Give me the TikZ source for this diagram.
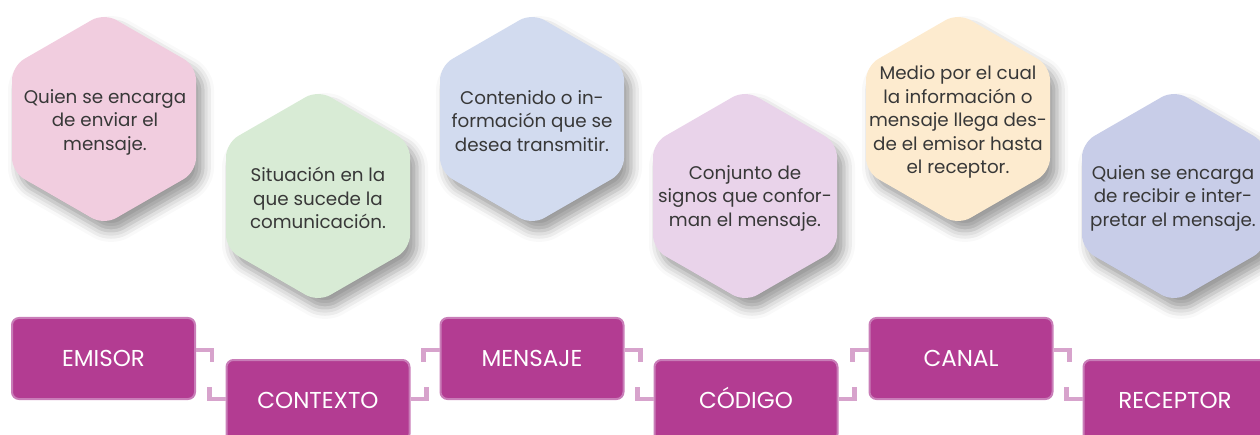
\documentclass[tikz,border=0pt]{standalone}
\usepackage{fontspec}
\setmainfont{Poppins}
\usetikzlibrary{shadows.blur}
\definecolor{hexpink}{HTML}{F1CDDF}
\definecolor{hexgreen}{HTML}{D8EBD5}
\definecolor{hexblue}{HTML}{D2DBEF}
\definecolor{hexlav}{HTML}{E9D3EA}
\definecolor{hexcream}{HTML}{FDEBCF}
\definecolor{hexperi}{HTML}{C8CDE8}
\definecolor{boxfill}{HTML}{B33C92}
\definecolor{boxline}{HTML}{C97DB8}
\definecolor{connc}{HTML}{D7A3CC}
\definecolor{txt}{HTML}{383838}
\tikzset{
  hexbody/.style={rounded corners=14pt,
    blur shadow={shadow xshift=7pt, shadow yshift=-10pt, shadow blur radius=11pt, shadow opacity=40}},
  hextext/.style={align=center, text=txt, font=\fontsize{18.3}{23.5}\selectfont, inner sep=0pt},
  stage/.style={rectangle, rounded corners=7pt, fill=boxfill, draw=boxline, line width=2pt,
    minimum width=183pt, minimum height=81pt, text=white, font=\fontsize{23}{26}\selectfont,
    text height=16pt, text depth=0pt, inner sep=0pt},
  conn/.style={draw=connc, line width=4.5pt, line join=miter}
}
\newcommand\hexagonat[3]{%
  \path[fill=#3, hexbody] (#1-92,#2) -- (#1-92,#2-53) -- (#1,#2-106) -- (#1+92,#2-53)
    -- (#1+92,#2+53) -- (#1,#2+106) -- (#1-92,#2+53) -- cycle;}
\begin{document}
\begin{tikzpicture}[x=1pt,y=-1pt]
\useasboundingbox (0,0) rectangle (1260,435);
% hexagons
\hexagonat{104}{119}{hexpink}
\hexagonat{318}{196}{hexgreen}
\hexagonat{532}{119}{hexblue}
\hexagonat{745}{196}{hexlav}
\hexagonat{958}{119}{hexcream}
\hexagonat{1174}{196}{hexperi}
\node[hextext] (t1) at (105,122) {Quien se encarga\\de enviar el\\mensaje.};
\node[hextext] (t2) at (318,198) {Situación en la\\que sucede la\\comunicación.};
\node[hextext] (t3) at (532,121) {Contenido o in-\\formación que se\\desea transmitir.};
\node[hextext] (t4) at (745,198) {Conjunto de\\signos que confor-\\man el mensaje.};
\node[hextext] (t5) at (958,122) {Medio por el cual\\la información o\\mensaje llega des-\\de el emisor hasta\\el receptor.};
\node[hextext] (t6) at (1173,198) {Quien se encarga\\de recibir e inter-\\pretar el mensaje.};
% stage boxes
\node[stage] (emisor)   at (103.5,358.5) {EMISOR};
\node[stage] (contexto) at (318,400.5) {CONTEXTO};
\node[stage] (mensaje)  at (532,358.5) {MENSAJE};
\node[stage] (codigo)   at (746,400.5) {CÓDIGO};
\node[stage] (canal)    at (961,358.5) {CANAL};
\node[stage] (receptor) at (1175,400.5) {RECEPTOR};
% connectors (down steps)
\foreach \a/\b in {emisor/contexto, mensaje/codigo, canal/receptor}{
  \draw[conn] ([yshift=8.5pt]\a.east) -- ++(16,0) -- ++(0,12);
  \draw[conn] ([yshift=1.5pt]\b.west) -- ++(-16,0) -- ++(0,-12);
}
% connectors (up steps)
\foreach \a/\b in {contexto/mensaje, codigo/canal}{
  \draw[conn] ([yshift=1.5pt]\a.east) -- ++(16,0) -- ++(0,-12);
  \draw[conn] ([yshift=8.5pt]\b.west) -- ++(-16,0) -- ++(0,12);
}
\end{tikzpicture}
\end{document}
